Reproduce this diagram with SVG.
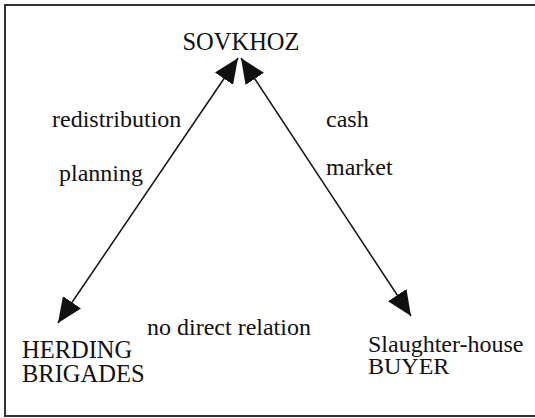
<svg xmlns="http://www.w3.org/2000/svg" width="535" height="418" viewBox="0 0 535 418">
<defs>
<style>
text{font-family:"Liberation Serif","Times New Roman",serif;font-size:24px;fill:#111}
.big{font-size:24.5px}
.edge{stroke:#111;stroke-width:1.5;fill:none}
</style>
<marker id="ah" viewBox="0 0 25 22" refX="25" refY="11" markerWidth="25" markerHeight="22" markerUnits="userSpaceOnUse" orient="auto-start-reverse">
<path d="M0,0 L25,11 L0,22 Z" fill="#111"/>
</marker>
</defs>
<rect x="5" y="5" width="540" height="411" fill="#fff" stroke="#333" stroke-width="2"/>
<g id="sovkhoz"><text class="big" x="241" y="50" text-anchor="middle">SOVKHOZ</text></g>
<g id="herding"><text class="big" x="22" y="358">HERDING</text><text class="big" x="22" y="382">BRIGADES</text></g>
<g id="buyer"><text x="368" y="352">Slaughter-house</text><text x="368" y="374">BUYER</text></g>
<g id="connectors">
<path class="edge" d="M238,58 L58,323" marker-start="url(#ah)" marker-end="url(#ah)"/>
<path class="edge" d="M241,58 L411,316" marker-start="url(#ah)" marker-end="url(#ah)"/>
</g>
<g id="labels">
<text x="52" y="127">redistribution</text>
<text x="59" y="181">planning</text>
<text x="326" y="127">cash</text>
<text x="326" y="175">market</text>
<text x="147" y="335">no direct relation</text>
</g>
</svg>
